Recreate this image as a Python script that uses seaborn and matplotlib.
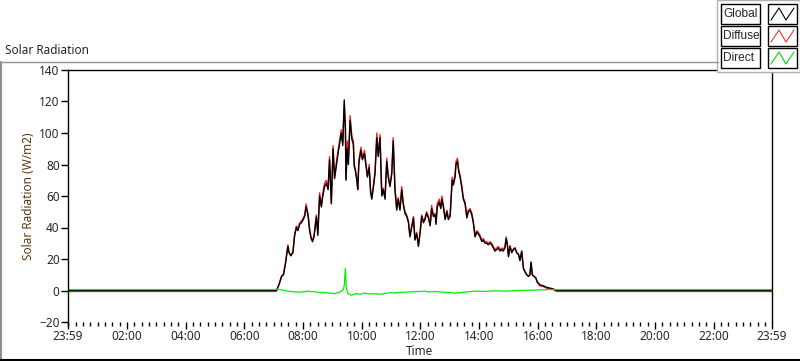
import matplotlib
matplotlib.use("Agg")
import matplotlib.pyplot as plt
from matplotlib.patches import Rectangle
from matplotlib.lines import Line2D
from matplotlib.ticker import MultipleLocator
import pandas as pd
import seaborn as sns

# time in hours after midnight
global_t = [-0.017, 7.00, 7.09, 7.18, 7.26, 7.33, 7.40, 7.48, 7.52, 7.58, 7.65, 7.71, 7.77, 7.82, 7.88, 7.94,
            8.00, 8.05, 8.10, 8.14, 8.17, 8.22, 8.27, 8.32, 8.37, 8.45, 8.50, 8.56, 8.62, 8.67, 8.73, 8.79,
            8.85, 8.90, 8.96, 9.02, 9.07, 9.13, 9.19, 9.25, 9.30, 9.35, 9.40, 9.44, 9.46, 9.50, 9.54, 9.60,
            9.66, 9.71, 9.74, 9.77, 9.83, 9.86, 9.90, 9.97, 10.02, 10.09, 10.13, 10.19, 10.25, 10.30, 10.34,
            10.39, 10.45, 10.51, 10.56, 10.62, 10.68, 10.73, 10.79, 10.85, 10.90, 10.96, 11.02, 11.07, 11.13,
            11.19, 11.24, 11.30, 11.36, 11.41, 11.47, 11.53, 11.59, 11.64, 11.70, 11.76, 11.81, 11.87, 11.93,
            11.99, 12.04, 12.10, 12.15, 12.21, 12.27, 12.33, 12.38, 12.44, 12.50, 12.53, 12.57, 12.64, 12.69,
            12.73, 12.78, 12.84, 12.90, 12.95, 13.01, 13.04, 13.08, 13.12, 13.18, 13.21, 13.26, 13.30, 13.35,
            13.41, 13.46, 13.52, 13.58, 13.63, 13.69, 13.75, 13.80, 13.86, 13.92, 13.97, 14.03, 14.09, 14.14,
            14.20, 14.26, 14.31, 14.37, 14.43, 14.48, 14.54, 14.60, 14.65, 14.71, 14.77, 14.82, 14.88, 14.92,
            14.96, 15.00, 15.05, 15.11, 15.17, 15.22, 15.28, 15.34, 15.39, 15.45, 15.51, 15.56, 15.62, 15.68,
            15.73, 15.77, 15.81, 15.87, 15.93, 15.98, 16.07, 16.19, 16.30, 16.41, 16.53, 16.64, 16.75, 23.983]

global_w = [0, 0, 0, 4, 8.8, 10, 17.5, 28, 24, 22, 24, 35, 40, 38, 42, 43,
            45, 47, 53, 50, 47, 38, 33, 31, 34, 46.7, 35, 60, 53, 60, 66, 68,
            64, 83, 55, 90, 71, 79, 87, 94, 100, 92, 121, 102, 70, 90, 80, 108,
            96, 93, 79, 77, 70, 64, 81, 89, 83, 87, 81, 72, 78, 62, 58,
            65, 74, 97, 85, 97, 60, 64, 58, 82, 72, 66, 74, 95, 64,
            51, 58, 51, 64, 55, 49, 47, 43, 34, 40, 46, 32, 36, 28,
            37, 47, 43, 45, 49, 46, 41, 52, 47, 48, 42, 53, 56, 52,
            58, 53, 45, 50, 45, 47, 57, 70, 67, 72, 80, 82, 76, 72,
            65, 58, 55, 46, 50, 51, 48, 43, 34, 37, 36, 34, 31, 32,
            30, 30, 29, 30, 29, 27, 25, 26, 27, 25, 26, 25, 27, 33,
            29, 21.5, 28, 24, 26, 27, 24, 23, 19, 25, 14, 12, 10, 9,
            10, 18, 10, 9, 8, 5.6, 3.5, 3, 2, 1.5, 1, 0, 0, 0]

diffuse_w = [-0.6, -0.6, -0.5, 4, 9, 10.5, 18, 29, 24, 22.5, 24.5, 36, 41, 38.5, 43, 44,
             46, 48, 55, 51, 48, 39, 34, 32, 35, 48, 36, 62, 54, 62, 68, 70,
             65, 85, 56, 92, 72, 81, 89, 96, 102, 94, 118, 105, 71, 95, 81, 111,
             98, 95, 80, 78, 71, 65, 83, 91, 84, 89, 82, 73, 80, 63, 59,
             66, 76, 100, 86, 99, 61, 65, 59, 84, 73, 67, 75, 97, 65,
             52, 59, 52, 66, 56, 50, 48, 44, 35, 41, 47, 33, 37, 29,
             38, 48, 44, 46, 50, 47, 42, 54, 48, 49, 43, 55, 58, 53,
             60, 54, 46, 51, 46, 48, 58, 72, 68, 74, 82, 84, 77, 73,
             66, 59, 56, 47, 51, 52, 49, 44, 35, 38, 37, 35, 32, 33,
             31, 31, 30, 31, 30, 28, 26, 27, 28, 26, 27, 26, 28, 34,
             30, 22, 28.5, 24.5, 26.5, 27, 24, 23, 19, 25, 14, 12, 10, 9,
             10, 18, 10, 9, 8, 5, 3, 2.5, 1.5, 1, 0.5, -0.6, -0.6, -0.6]

direct_t = [-0.017, 7.00, 7.14, 7.30, 7.48, 7.70, 7.94, 8.15, 8.39, 8.60, 8.85, 9.07, 9.25, 9.36, 9.40,
            9.44, 9.47, 9.53, 9.64, 9.81, 9.95, 10.10, 10.25, 10.44, 10.60, 10.78, 10.95, 11.12, 11.30,
            11.46, 11.80, 12.15, 12.27, 12.50, 12.72, 13.00, 13.18, 13.29, 13.52, 13.86, 14.20, 14.54,
            14.90, 15.22, 15.90, 16.36, 16.75, 23.983]
direct_w = [0.6, 0.6, 0.8, 0.2, -0.4, -0.9, -1, -0.5, -0.8, -1.3, -1.5, -2, -1, 0.3, 3,
            14, 1.5, -2, -3, -2, -2.4, -1.6, -2.2, -2, -2.4, -2, -1.4, -1.6, -1.2,
            -1, -0.8, -0.4, -1, -0.6, -1, -1.3, -1.7, -1.5, -1, -0.4, -0.6, -0.2,
            -0.4, -0.1, 0.3, 0.6, 0.6, 0.6]

tick_pos = [-0.017, 2, 4, 6, 8, 10, 12, 14, 16, 18, 20, 22, 23.983]
tick_lab = ["23:59", "02:00", "04:00", "06:00", "08:00", "10:00", "12:00",
            "14:00", "16:00", "18:00", "20:00", "22:00", "23:59"]

sns.set_style("white")
plt.rcParams["font.family"] = ["Noto Sans", "DejaVu Sans"]

df_g = pd.DataFrame({"t": global_t, "w": global_w, "d": diffuse_w})
df_r = pd.DataFrame({"t": direct_t, "w": direct_w})

fig = plt.figure(figsize=(8, 3.61), dpi=100)
ax = fig.add_axes([68 / 800, 39 / 361, 704 / 800, 252 / 361])

sns.lineplot(x="t", y="d", data=df_g, color="#ff2020", lw=1.0, sort=False, estimator=None, ax=ax)
sns.lineplot(x="t", y="w", data=df_g, color="black", lw=1.0, sort=False, estimator=None, ax=ax)
sns.lineplot(x="t", y="w", data=df_r, color="#00ee00", lw=0.9, sort=False, estimator=None, ax=ax)

ax.set_xlim(-0.017, 23.983)
ax.set_ylim(-20, 140)
ax.set_yticks(range(-20, 141, 20))
ax.set_xticks(tick_pos)
ax.set_xticklabels(tick_lab)
ax.xaxis.set_minor_locator(MultipleLocator(0.25))
ax.tick_params(axis="both", which="major", direction="out", length=5, width=1,
               color="black", labelsize=8.5, pad=1, bottom=True, left=True)
ax.tick_params(axis="x", which="minor", direction="out", length=3, width=1,
               color="black", bottom=True)
for side in ["left", "top", "right"]:
    ax.spines[side].set_color("black")
    ax.spines[side].set_linewidth(1)
ax.spines["bottom"].set_visible(False)

ax.set_xlabel("Time", fontsize=8.5, labelpad=1)
ax.set_ylabel("Solar Radiation (W/m2)", fontsize=8.5, color="#5c3a10", labelpad=3)

# panel frame and caption
fig.add_artist(Line2D([0, 718 / 800], [1 - 62 / 361, 1 - 62 / 361], color="#909090", lw=1))
fig.add_artist(Line2D([0.5 / 800, 0.5 / 800], [0, 1 - 62 / 361], color="#909090", lw=1.5))
fig.add_artist(Line2D([0, 1], [0.7 / 361, 0.7 / 361], color="black", lw=1.5))
fig.text(5 / 800, 1 - 50 / 361, "Solar Radiation", fontsize=8.5, va="center", ha="left")

# legend panel
fig.add_artist(Rectangle((717 / 800, 1 - 72 / 361), 83 / 800, 72 / 361, facecolor="white",
                         edgecolor="#b0b0b0", lw=1))
names = ["Global", "Diffuse", "Direct"]
colors = ["black", "#ff3030", "#00dd00"]
for i, (nm, cl) in enumerate(zip(names, colors)):
    yc = 14 + 22 * i
    fig.add_artist(Rectangle((721 / 800, 1 - (yc + 10) / 361), 39 / 800, 20 / 361,
                             facecolor="white", edgecolor="black", lw=1))
    fig.text(723 / 800, 1 - yc / 361, nm, fontsize=8.6, va="center", ha="left",
             family=["Liberation Sans", "DejaVu Sans"])
    fig.add_artist(Rectangle((768 / 800, 1 - (yc + 10) / 361), 29 / 800, 20 / 361,
                             facecolor="white", edgecolor="black", lw=1))
    xs = [771, 779, 786, 794]
    ys = [yc + 6, yc - 6, yc + 6, yc - 6]
    fig.add_artist(Line2D([x / 800 for x in xs], [1 - y / 361 for y in ys], color=cl, lw=0.8))

fig.savefig("out.png", dpi=100)
